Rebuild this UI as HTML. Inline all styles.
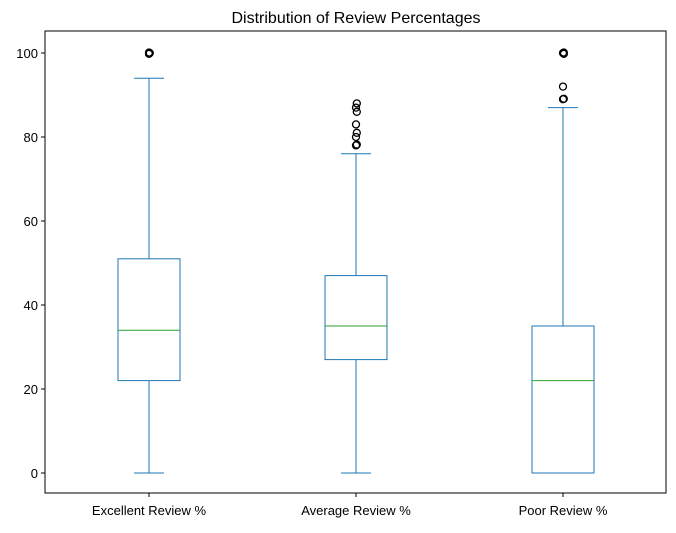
<!DOCTYPE html>
<html><head><meta charset="utf-8"><style>
body{margin:0;background:#fff;font-family:"Liberation Sans","DejaVu Sans",sans-serif}
</style></head><body>
<svg id="chart" width="676" height="528" xmlns="http://www.w3.org/2000/svg">
<rect width="676" height="528" fill="#fff"/>
<text x="356" y="23" text-anchor="middle" font-size="16">Distribution of Review Percentages</text>
<g id="plot"></g>
<rect x="45" y="31" width="621" height="462" fill="none" stroke="#000" stroke-width="1"/>
</svg>
<script>
const categories=["Excellent Review %","Average Review %","Poor Review %"];
const q1=[22,27,0];
const medians=[34,35,22];
const q3=[51,47,35];
const whiskLo=[0,0,0];
const whiskHi=[94,76,87];
const outliers=[[99.8,100,100.1],[78,78.2,80,81,83,86,87,88],[89,89.1,92,99.8,100,100.1]];
const yTicks=[0,20,40,60,80,100];
const NS="http://www.w3.org/2000/svg";
const g=document.getElementById('plot');
const svg=document.getElementById('chart');
const y=v=>473-v*4.2;
const x=i=>149+i*207;
function mk(t,a,p){const e=document.createElementNS(NS,t);for(const k in a)e.setAttribute(k,a[k]);(p||g).appendChild(e);return e;}
yTicks.forEach(t=>{
 const l=mk('line',{x1:41,x2:45,y1:y(t),y2:y(t),stroke:'#000'},svg);
 
 
 const tx=mk('text',{x:38,y:y(t)+5,'text-anchor':'end','font-size':13},svg);
 tx.textContent=t;
 
 
});
categories.forEach((c,i)=>{
 const cx=x(i),c1='#1f77b4';
 const l=mk('line',{x1:cx,x2:cx,y1:493,y2:497,stroke:'#000'},svg);
 
 
 const tx=mk('text',{x:cx,y:515,'text-anchor':'middle','font-size':13},svg);
 tx.textContent=c;
 
 
 const b=mk('rect',{x:cx-31,y:y(q3[i]),width:62,height:y(q1[i])-y(q3[i]),fill:'none',stroke:c1});
 
 
 const m=mk('line',{x1:cx-31,x2:cx+31,y1:y(medians[i]),y2:y(medians[i]),stroke:'#2ca02c'});
 
 
 [[whiskLo[i],q1[i]],[whiskHi[i],q3[i]]].forEach(([w,q])=>{
  const wl=mk('line',{x1:cx,x2:cx,y1:y(w),y2:y(q),stroke:c1});
  
  
  const cp=mk('line',{x1:cx-15,x2:cx+15,y1:y(w),y2:y(w),stroke:c1});
  
  
 });
 outliers[i].forEach((v,k)=>{
  const o=mk('circle',{cx:cx+(k%2?0.8:0),cy:y(v),r:3.5,fill:'none',stroke:'#000','stroke-width':1.3});
  
  
 });
});
</script>
</body></html>
